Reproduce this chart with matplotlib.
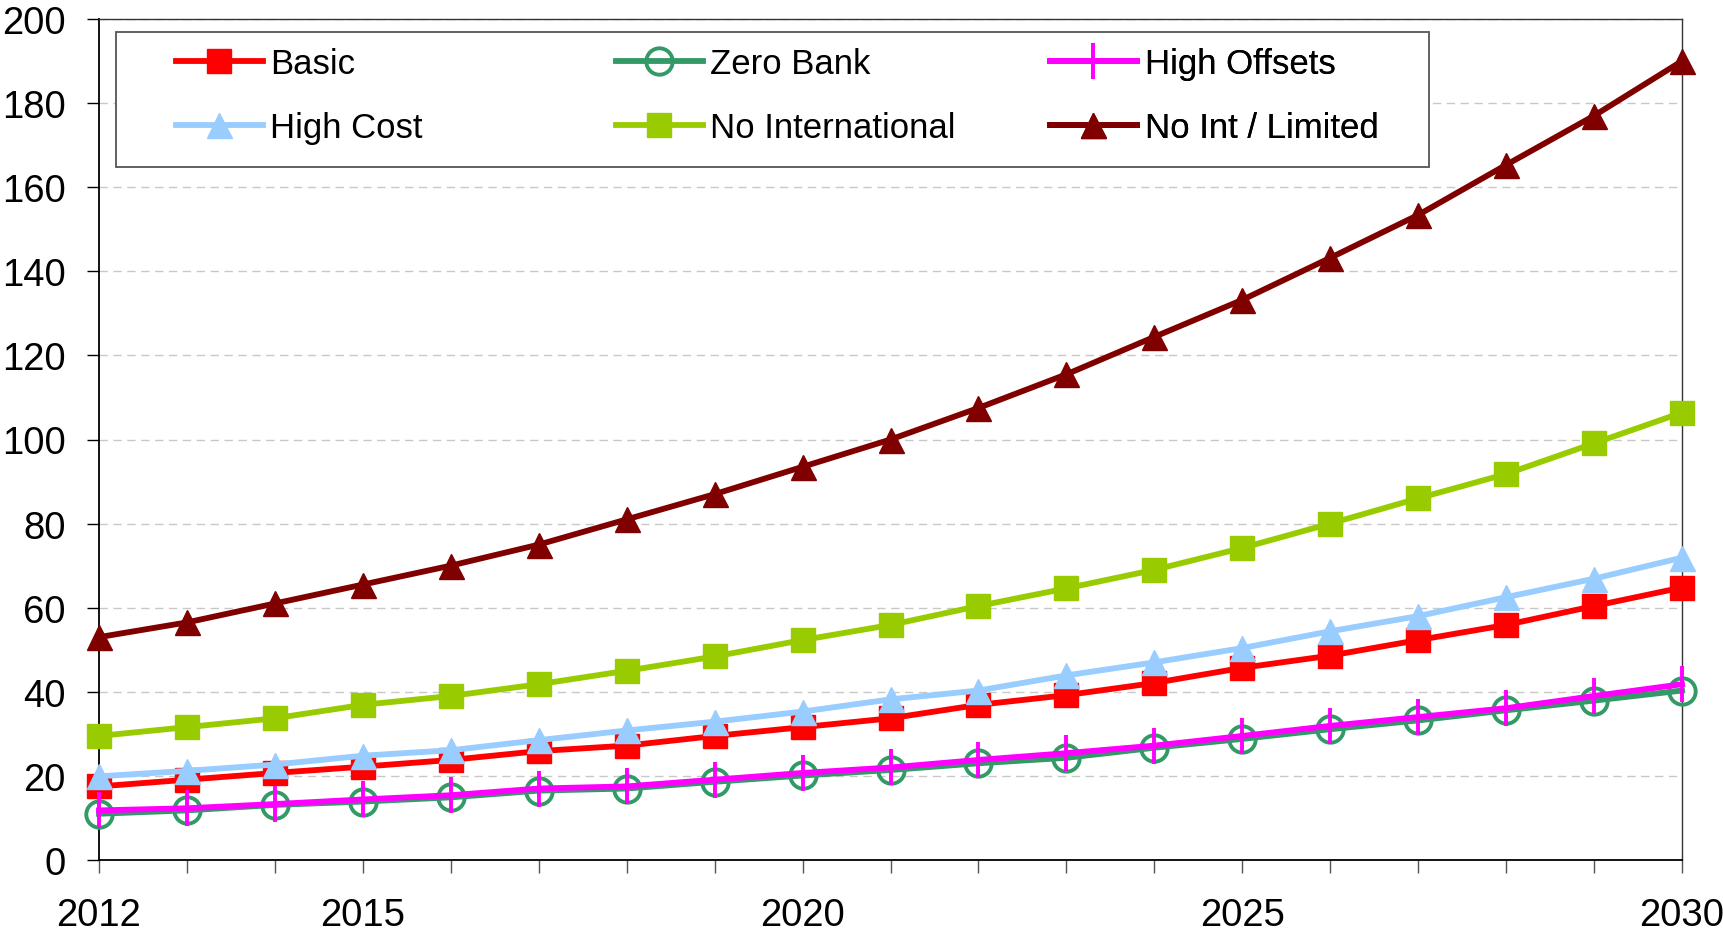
import matplotlib.pyplot as plt
import matplotlib.patches as mpatches
import numpy as np

plt.rcParams['font.family'] = ['Liberation Sans', 'DejaVu Sans']

years = np.arange(2012, 2031)
tick_labels = ['2012', '', '', '2015', '', '', '', '', '2020', '', '', '', '', '2025', '', '', '', '', '2030']

basic = [17.5, 19.1, 20.7, 22.2, 23.8, 25.9, 27.2, 29.5, 31.6, 33.7, 36.9, 39.2, 42.1, 45.7, 48.6, 52.3, 55.9, 60.4, 64.8]
zero_bank = [11.0, 11.8, 13.1, 13.9, 14.9, 16.5, 17.0, 18.6, 20.1, 21.4, 23.0, 24.3, 26.7, 28.8, 31.1, 33.2, 35.6, 37.9, 40.3]
high_offsets = [11.8, 12.3, 13.3, 14.4, 15.4, 17.0, 17.5, 19.1, 20.7, 22.0, 23.8, 25.4, 27.2, 29.5, 31.9, 34.0, 36.1, 39.0, 41.8]
high_cost = [19.9, 21.2, 22.7, 24.8, 26.1, 28.5, 30.8, 32.9, 35.3, 38.2, 40.3, 43.9, 47.0, 50.4, 54.4, 58.0, 62.5, 66.9, 71.9]
no_intl = [29.5, 31.6, 33.7, 36.9, 39.0, 41.8, 45.0, 48.4, 52.3, 55.9, 60.4, 64.6, 69.0, 74.2, 80.0, 86.0, 91.8, 99.1, 106.4]
no_int_limited = [53.0, 56.5, 61.0, 65.5, 70.0, 75.0, 81.0, 87.0, 93.5, 100.0, 107.5, 115.5, 124.4, 133.2, 143.2, 153.4, 165.3, 177.0, 190.0]

fig = plt.figure(figsize=(17.24, 9.37), dpi=100)
ax = fig.add_axes([99 / 1724, 1 - 861 / 937, (1682 - 99) / 1724, (861 - 20) / 937])

lw = 4.2
h = {}
h['Basic'], = ax.plot(years, basic, color='#FF0000', lw=lw, marker='s', ms=17, mec='#FF0000', clip_on=False, zorder=3)
h['Zero Bank'], = ax.plot(years, zero_bank, color='#339966', lw=lw, marker='o', ms=19, mfc='none', mec='#339966', mew=2.8, clip_on=False, zorder=3)
h['High Offsets'], = ax.plot(years, high_offsets, color='#FF00FF', lw=lw, marker='|', ms=26, mec='#FF00FF', mew=2.8, clip_on=False, zorder=3)
h['High Cost'], = ax.plot(years, high_cost, color='#99CCFF', lw=lw, marker='^', ms=18, mec='#99CCFF', clip_on=False, zorder=3)
h['No International'], = ax.plot(years, no_intl, color='#99CC00', lw=lw, marker='s', ms=17, mec='#99CC00', clip_on=False, zorder=3)
h['No Int / Limited'], = ax.plot(years, no_int_limited, color='#800000', lw=lw, marker='^', ms=18, mec='#800000', clip_on=False, zorder=3)

ax.set_xlim(2012, 2030)
ax.set_ylim(0, 200)
ax.set_yticks(np.arange(0, 201, 20))
ax.set_xticks(years)
ax.set_xticklabels(tick_labels)
ax.tick_params(axis='y', labelsize=27.5, length=9, width=1, pad=15, direction='out')
ax.tick_params(axis='x', labelsize=27.5, length=9, width=1, pad=18, direction='out', color='#555555')
ax.yaxis.grid(True, color='#C8C8C8', linestyle=(0, (6, 4)), lw=1)
ax.set_axisbelow(True)
for s in ['top', 'right']:
    ax.spines[s].set_color('#333333')
    ax.spines[s].set_linewidth(1)
for s in ['left', 'bottom']:
    ax.spines[s].set_linewidth(1.3)

# legend frame drawn separately, columns placed like the spreadsheet legend
frame = mpatches.Rectangle((0.011, 0.824), 0.829, 0.1605, transform=ax.transAxes,
                           facecolor='white', edgecolor='#555555', lw=1.3, zorder=5)
ax.add_patch(frame)

columns = [['Basic', 'High Cost'], ['Zero Bank', 'No International'], ['High Offsets', 'No Int / Limited']]
col_x = [0.0486, 0.3266, 0.6008]
for names, x in zip(columns, col_x):
    leg = ax.legend([h[k] for k in names], names, loc='upper left',
                    bbox_to_anchor=(x, 0.967), frameon=False,
                    fontsize=25, handlelength=2.5, handletextpad=0.22,
                    borderpad=0, borderaxespad=0, labelspacing=0.9)
    leg.set_zorder(6)
    ax.add_artist(leg)

fig.savefig('out.png', dpi=100)
